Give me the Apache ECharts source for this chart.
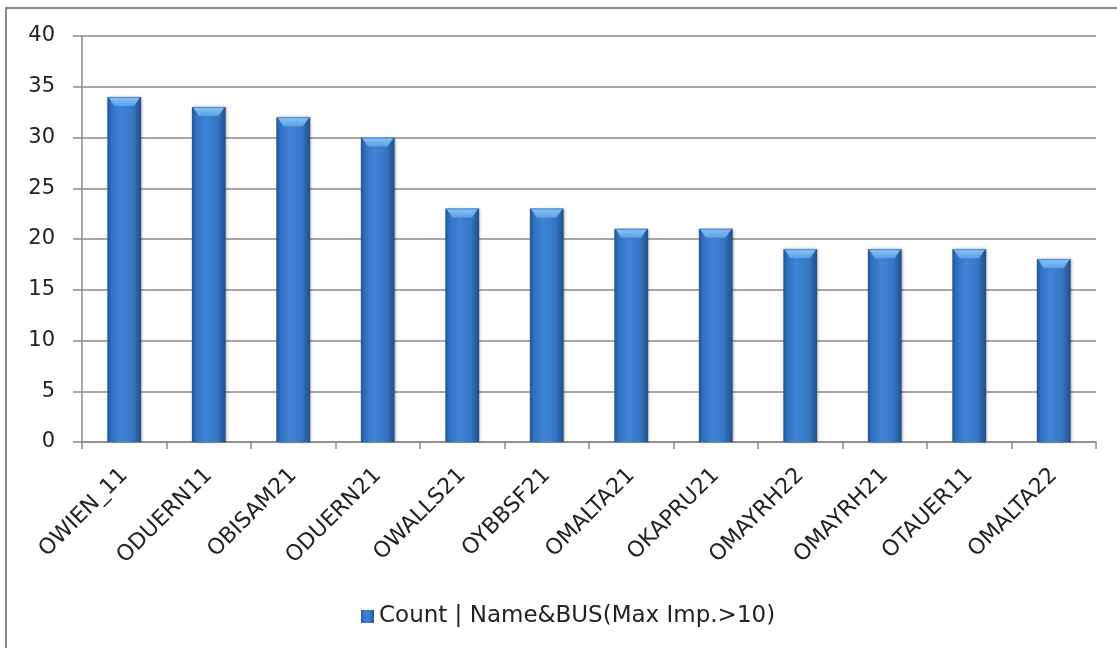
<!DOCTYPE html>
<html>
<head>
<meta charset="utf-8">
<script src="https://cdn.jsdelivr.net/npm/echarts@6/dist/echarts.min.js"></script>
<style>
  html, body { margin: 0; padding: 0; background: #fff; }
  #chart { width: 1117px; height: 648px; }
</style>
</head>
<body>
<div id="chart"></div>
<script>
// Bus names and how often each exceeded the impedance threshold
const categories = ['OWIEN_11', 'ODUERN11', 'OBISAM21', 'ODUERN21', 'OWALLS21', 'OYBBSF21',
                    'OMALTA21', 'OKAPRU21', 'OMAYRH22', 'OMAYRH21', 'OTAUER11', 'OMALTA22'];
const counts = [34, 33, 32, 30, 23, 23, 21, 21, 19, 19, 19, 18];
const seriesName = 'Count | Name&BUS(Max Imp.>10)';
const yTicks = [0, 5, 10, 15, 20, 25, 30, 35, 40];

const chart = echarts.init(document.getElementById('chart'), null, { renderer: 'canvas' });
const FONT = 'DejaVu Sans';

// horizontal shading across each column
const bodyFill = new echarts.graphic.LinearGradient(0, 0, 1, 0, [
  { offset: 0, color: '#22548f' },
  { offset: 0.12, color: '#3070c0' },
  { offset: 0.4, color: '#3f84d6' },
  { offset: 0.75, color: '#3676c6' },
  { offset: 1, color: '#214f88' }
]);

const option = {
  animation: false,
  backgroundColor: '#ffffff',
  graphic: [{
    type: 'rect',
    shape: { x: 6, y: 8, width: 1300, height: 800 },
    style: { fill: 'none', stroke: '#8a8a8a', lineWidth: 2 },
    silent: true
  }],
  grid: { left: 82, right: 21, top: 36, bottom: 206, containLabel: false },
  legend: {
    data: [{ name: seriesName, icon: 'rect' }],
    left: 356, top: 600,
    itemWidth: 13, itemHeight: 13, itemGap: 6,
    textStyle: { fontFamily: FONT, fontSize: 23, color: '#222' }
  },
  xAxis: {
    type: 'category',
    data: categories,
    axisLine: { lineStyle: { color: '#8a8a8a', width: 1.5 } },
    axisTick: { show: true, length: 7, lineStyle: { color: '#8a8a8a', width: 1.5 } },
    axisLabel: { rotate: 45, fontFamily: FONT, fontSize: 22, color: '#222', margin: 30, interval: 0 }
  },
  yAxis: {
    type: 'value',
    min: yTicks[0], max: yTicks[yTicks.length - 1], interval: 5,
    axisLine: { show: true, lineStyle: { color: '#8a8a8a', width: 1.5 } },
    axisTick: { show: true, length: 9, inside: false, lineStyle: { color: '#8a8a8a', width: 1.5 } },
    splitLine: { lineStyle: { color: '#8a8a8a', width: 1.5 } },
    axisLabel: { fontFamily: FONT, fontSize: 21, color: '#222', margin: 27 }
  },
  series: [
    {
      name: seriesName,
      type: 'bar',
      data: counts,
      barWidth: '40%',
      itemStyle: {
        color: bodyFill,
        shadowColor: 'rgba(0,0,0,0.35)',
        shadowBlur: 3,
        shadowOffsetX: 1
      },
      z: 2
    },
    {
      // bevelled highlight on each column top
      type: 'custom',
      data: counts.map((v, i) => [i, v]),
      z: 3,
      silent: true,
      renderItem: function (params, api) {
        const p = api.coord([api.value(0), api.value(1)]);
        const w = api.size([1, 0])[0] * 0.4;
        const x0 = p[0] - w / 2, x1 = p[0] + w / 2, y = p[1];
        const h = 9;
        return {
          type: 'group',
          children: [
            {
              type: 'polygon',
              shape: { points: [[x0 + 1, y], [x1 - 1, y], [x1 - 7, y + h], [x0 + 7, y + h]] },
              style: {
                fill: new echarts.graphic.LinearGradient(0, 0, 0, 1, [
                  { offset: 0, color: '#8cc4f7' },
                  { offset: 1, color: '#5c9fe6' }
                ])
              }
            },
            {
              type: 'line',
              shape: { x1: x0 + 1, y1: y + 0.5, x2: x1 - 1, y2: y + 0.5 },
              style: { stroke: '#4a86cc', lineWidth: 1 }
            }
          ]
        };
      }
    }
  ]
};

chart.setOption(option);
</script>
</body>
</html>
